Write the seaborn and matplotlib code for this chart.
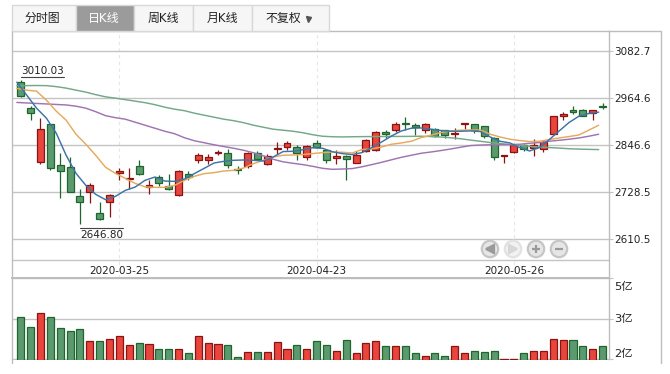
import pandas as pd
import matplotlib
matplotlib.use('Agg')
import matplotlib.pyplot as plt
from matplotlib.patches import Rectangle, Circle
from matplotlib.transforms import ScaledTranslation
import seaborn as sns

opens = [3002.8, 2937.5, 2804.3, 2897.3, 2796.8, 2791.8, 2718.9, 2729.0, 2676.2, 2703.9,
         2776.7, 2760.6, 2794.3, 2741.6, 2765.6, 2744.0, 2721.4, 2774.2, 2808.4, 2809.4,
         2825.9, 2826.9, 2785.0, 2794.3, 2826.9, 2799.3, 2835.2, 2842.0, 2842.0, 2816.9,
         2852.1, 2834.5, 2814.4, 2819.4, 2801.8, 2831.0, 2834.5, 2877.9, 2884.7, 2902.3,
         2895.5, 2884.7, 2887.2, 2883.0, 2874.7, 2898.8, 2897.3, 2892.3, 2864.6, 2818.4,
         2828.4, 2847.0, 2839.5, 2836.0, 2873.7, 2917.4, 2933.2, 2932.4, 2924.9, 2943.2]
closes = [2969.1, 2924.9, 2887.2, 2789.3, 2781.7, 2729.0, 2703.9, 2745.6, 2660.1, 2720.4,
          2781.7, 2764.1, 2774.2, 2746.6, 2751.6, 2735.6, 2781.7, 2765.6, 2821.9, 2816.9,
          2827.7, 2796.8, 2783.2, 2826.9, 2811.9, 2818.4, 2838.5, 2852.1, 2826.9, 2844.5,
          2842.0, 2809.4, 2817.6, 2811.9, 2821.9, 2859.6, 2879.7, 2873.7, 2897.3, 2897.3,
          2891.2, 2899.8, 2869.6, 2872.2, 2877.2, 2900.5, 2884.7, 2869.6, 2816.9, 2820.2,
          2847.0, 2836.0, 2847.0, 2852.8, 2917.4, 2923.2, 2927.4, 2918.9, 2932.4, 2940.0]
highs = [3010.03, 2943.2, 2912.4, 2899.8, 2826.9, 2815.9, 2736.5, 2751.6, 2702.8, 2722.2,
         2788.3, 2789.3, 2807.6, 2757.4, 2771.7, 2774.2, 2782.5, 2780.7, 2825.2, 2824.4,
         2834.5, 2837.0, 2794.3, 2828.4, 2830.2, 2824.4, 2853.6, 2855.3, 2845.3, 2845.3,
         2857.8, 2837.0, 2832.7, 2820.2, 2831.0, 2861.1, 2880.4, 2883.0, 2904.8, 2914.9,
         2902.3, 2900.5, 2888.7, 2884.7, 2889.7, 2900.5, 2897.3, 2893.0, 2866.1, 2820.2,
         2847.0, 2847.8, 2862.1, 2857.8, 2918.1, 2927.4, 2943.2, 2935.0, 2933.2, 2950.0]
lows = [2965.9, 2908.1, 2799.3, 2784.2, 2713.9, 2729.0, 2646.8, 2701.3, 2656.9, 2665.2,
        2757.4, 2736.5, 2771.7, 2724.0, 2744.0, 2732.2, 2717.9, 2759.1, 2800.8, 2799.3,
        2820.2, 2788.3, 2774.2, 2788.3, 2809.4, 2796.8, 2824.4, 2834.5, 2809.4, 2807.6,
        2838.5, 2800.8, 2799.3, 2759.1, 2800.8, 2829.5, 2830.2, 2864.6, 2879.7, 2884.7,
        2872.2, 2876.2, 2867.1, 2864.6, 2862.1, 2885.5, 2876.2, 2863.6, 2808.4, 2801.8,
        2825.9, 2831.0, 2819.4, 2827.7, 2872.9, 2909.8, 2923.2, 2918.1, 2909.8, 2935.0]

ma5 = [3003.5, 2970.9, 2938.2, 2913.1, 2875.4, 2820.2, 2774.9, 2744.8, 2722.2, 2708.9,
       2717.2, 2732.2, 2740.5, 2757.4, 2765.6, 2755.6, 2754.8, 2760.6, 2774.2, 2787.5,
       2800.8, 2805.1, 2807.6, 2808.4, 2807.6, 2805.8, 2815.9, 2829.5, 2830.2, 2834.0,
       2839.0, 2837.7, 2829.0, 2824.4, 2821.9, 2826.9, 2839.5, 2853.6, 2868.6, 2881.2,
       2888.0, 2888.7, 2885.5, 2882.2, 2880.4, 2880.4, 2881.2, 2879.7, 2866.1, 2855.3,
       2851.1, 2839.5, 2831.0, 2839.5, 2859.6, 2881.2, 2902.3, 2918.1, 2924.9, 2928.2]
ma10 = [2987.7, 2983.4, 2980.9, 2958.3, 2930.7, 2908.1, 2872.9, 2847.8, 2820.2, 2790.0,
        2774.9, 2762.4, 2749.8, 2741.0, 2739.8, 2739.8, 2744.8, 2757.4, 2767.4, 2774.2,
        2776.7, 2780.7, 2782.5, 2788.3, 2799.3, 2807.6, 2815.9, 2820.2, 2820.9, 2821.9,
        2824.4, 2826.9, 2828.4, 2827.7, 2825.9, 2834.5, 2836.0, 2841.0, 2847.8, 2851.1,
        2855.3, 2864.6, 2870.4, 2877.2, 2881.2, 2883.0, 2883.7, 2883.7, 2872.9, 2866.1,
        2860.4, 2857.1, 2854.6, 2855.3, 2859.6, 2863.6, 2867.1, 2871.2, 2883.0, 2895.5]
ma20 = [2952.6, 2951.3, 2950.0, 2948.8, 2947.5, 2946.3, 2943.2, 2938.2, 2929.4, 2919.4,
        2914.4, 2910.6, 2903.1, 2895.5, 2888.0, 2880.4, 2874.2, 2864.1, 2856.6, 2851.6,
        2846.5, 2842.0, 2837.7, 2832.7, 2826.4, 2818.9, 2810.1, 2803.8, 2800.1, 2796.8,
        2792.5, 2787.5, 2785.0, 2785.7, 2786.8, 2791.3, 2796.8, 2802.6, 2808.9, 2815.1,
        2820.2, 2825.2, 2828.4, 2832.0, 2836.0, 2840.3, 2844.5, 2845.8, 2846.5, 2846.8,
        2847.0, 2847.8, 2850.3, 2852.1, 2855.3, 2857.8, 2860.4, 2863.6, 2867.9, 2872.9]
ma30 = [2994.2, 2994.7, 2995.0, 2994.7, 2992.2, 2988.5, 2983.4, 2978.4, 2972.1, 2966.6,
        2963.3, 2959.6, 2955.8, 2952.0, 2947.0, 2940.7, 2935.7, 2931.9, 2925.7, 2920.6,
        2915.6, 2910.6, 2906.8, 2901.8, 2895.5, 2890.5, 2885.5, 2883.0, 2880.4, 2876.7,
        2871.7, 2867.9, 2866.6, 2866.1, 2866.6, 2866.9, 2867.1, 2867.1, 2867.4, 2867.4,
        2867.6, 2867.9, 2867.1, 2865.9, 2864.1, 2861.6, 2858.3, 2855.3, 2852.1, 2849.6,
        2847.0, 2844.8, 2842.8, 2840.8, 2839.5, 2838.2, 2836.5, 2835.7, 2835.0, 2834.5]

volumes = [3.34, 2.91, 3.51, 3.34, 2.87, 2.74, 2.82, 2.31, 2.31, 2.40,
           2.52, 2.14, 2.23, 2.18, 1.97, 1.97, 1.97, 1.80, 2.52, 2.23,
           2.18, 2.14, 1.59, 1.84, 1.84, 1.84, 2.27, 1.93, 2.14, 1.97,
           2.31, 2.14, 1.88, 2.35, 1.80, 2.23, 2.31, 2.06, 2.06, 2.06,
           1.76, 1.63, 1.76, 1.67, 2.06, 1.76, 1.88, 1.84, 1.88, 1.51,
           1.54, 1.80, 1.88, 1.88, 2.40, 2.35, 2.35, 2.06, 1.97, 2.10]

price_ticks = [3082.7, 2964.6, 2846.6, 2728.5, 2610.5]
volume_ticks = [1.5, 3.25, 5]
volume_labels = ['2亿', '3亿', '5亿']
date_positions = [10, 30, 50]
date_labels = ['2020-03-25', '2020-04-23', '2020-05-26']
tab_labels = ['分时图', '日K线', '周K线', '月K线', '不复权']

GREEN, GREEN_EDGE = '#5b9a6f', '#1f662e'
RED, RED_EDGE = '#e8453c', '#8a1414'
GRID = '#c4c4c4'
W, H = 670, 374


def box(left, top, right, bottom):
    return [left / W, 1 - bottom / H, (right - left) / W, (bottom - top) / H]


sns.set_style('white')
plt.rcParams['font.family'] = ['DejaVu Sans', 'Noto Sans CJK SC']

df = pd.DataFrame({'idx': range(len(opens)), 'open': opens, 'close': closes,
                   'high': highs, 'low': lows, 'volume': volumes})
df['up'] = df['close'] > df['open']

fig = plt.figure(figsize=(6.7, 3.74), dpi=100)
ax = fig.add_axes(box(11.5, 31, 609, 277.5))
ax_vol = fig.add_axes(box(11.5, 278, 609, 359.5))

# candles
for up, color, edge in [(True, RED, RED_EDGE), (False, GREEN, GREEN_EDGE)]:
    part = df[df['up'] == up]
    ax.vlines(part['idx'], part['low'], part['high'], color=edge, lw=0.9, zorder=3)
    ax.bar(part['idx'], (part['close'] - part['open']).abs(),
           bottom=part[['open', 'close']].min(axis=1), width=0.7,
           color=color, edgecolor=edge, linewidth=0.9, zorder=3)

# moving averages sit slightly left of the candles
for values, color in [(ma30, '#74a888'), (ma20, '#9f74b3'), (ma10, '#e6aa5e'), (ma5, '#3c74a6')]:
    sns.lineplot(x=df['idx'] - 0.4, y=values, color=color, lw=1.05, ax=ax,
                 errorbar=None, legend=False, zorder=4)

ax.set_xlim(-0.94, 59.65)
ax.set_ylim(2513.9, 3131.6)
ax.set_xlabel('')
ax.set_ylabel('')
ax.set_axisbelow(True)
ax.axhline(2558.9, color=GRID, lw=1, zorder=1)
ax.yaxis.tick_right()
ax.set_yticks(price_ticks, [f'{t:.1f}' for t in price_ticks])
ax.set_xticks(date_positions, date_labels)
ax.grid(axis='y', color=GRID, lw=1)
ax.grid(axis='x', color='#e6e6e6', lw=0.8, ls=(0, (3, 3)))
ax.tick_params(axis='y', length=2.7, width=0.8, color=GRID, pad=1, labelsize=7.5, labelcolor='#222222')
ax.tick_params(axis='x', length=0, pad=-8.5, labelsize=7.5, labelcolor='#222222')

# volume bars
for up, color, edge in [(True, RED, RED_EDGE), (False, GREEN, GREEN_EDGE)]:
    sns.barplot(data=df[df['up'] == up], x='idx', y='volume', native_scale=True, width=0.72,
                color=color, edgecolor=edge, linewidth=0.9, saturation=1, ax=ax_vol, zorder=3)

ax_vol.set_xlim(-0.94, 59.65)
ax_vol.set_ylim(1.5, 5)
ax_vol.set_xlabel('')
ax_vol.set_ylabel('')
ax_vol.set_xticks([])
ax_vol.yaxis.tick_right()
ax_vol.set_yticks(volume_ticks, volume_labels)
ax_vol.set_axisbelow(True)
ax_vol.grid(axis='y', color=GRID, lw=1)
ax_vol.tick_params(axis='y', length=2.7, width=0.8, color=GRID, pad=1, labelsize=8.2, labelcolor='#222222')
# the outer labels are pushed inside the panel
for label, va in zip(ax_vol.get_yticklabels(), ['bottom', 'center', 'top']):
    label.set_va(va)
top_label = ax_vol.get_yticklabels()[2]
top_label.set_transform(top_label.get_transform() + ScaledTranslation(0, -4 / 100, fig.dpi_scale_trans))

for a in (ax, ax_vol):
    for name, spine in a.spines.items():
        spine.set_color('#bdbdbd')
        spine.set_linewidth(1)
    a.patch.set_alpha(0)
ax_vol.spines['bottom'].set_visible(False)
ax_vol.spines['top'].set_linewidth(1.4)
ax.spines['bottom'].set_linewidth(1.4)

# page furniture drawn in pixel coordinates
ui = fig.add_axes([0, 0, 1, 1])
ui.set_xlim(0, W)
ui.set_ylim(H, 0)
ui.axis('off')
ui.plot([609, 660.5, 660.5], [31, 31, 363], color='#bdbdbd', lw=1)
ui.plot([11.5, 11.5], [359, 363], color='#bdbdbd', lw=1)

tab_edges = [11.5, 76, 134, 193, 252, 328.5]
tab_centers = [42, 104, 163, 222, 283.5]
for i, text in enumerate(tab_labels):
    left, right = tab_edges[i], tab_edges[i + 1]
    active = i == 1
    ui.add_patch(Rectangle((left, 5), right - left, 26, facecolor='#9b9b9b' if active else '#f6f6f6',
                           edgecolor='#d8d8d8', lw=1))
    ui.text(tab_centers[i], 18.5, text, ha='center', va='center', fontsize=8.6,
            color='white' if active else '#222222')
ui.plot([307.5], [19], marker='v', ms=3.6, color='#555555', ls='none')

ui.text(21, 71, '3010.03', ha='left', va='center', fontsize=7.5, color='#222222')
ui.plot([21, 64], [76.5, 76.5], color='#444444', lw=0.8)
ui.text(80, 234.5, '2646.80', ha='left', va='center', fontsize=7.5, color='#222222')
ui.plot([80, 123], [227.5, 227.5], color='#444444', lw=0.8)

for cx, marker, faded in [(490, '<', False), (513, '>', True), (536, '+', False), (559, '_', False)]:
    ring = '#e2e2e2' if faded else '#c6c6c6'
    fill = '#f2f2f2' if faded else '#e6e6e6'
    glyph = '#d8d8d8' if faded else '#9a9a9a'
    ui.add_patch(Circle((cx, 249), 8.2, facecolor=fill, edgecolor=ring, lw=1.6))
    ui.plot([cx], [249], marker=marker, ms=5.5, mew=1.6, color=glyph, ls='none')

plt.savefig('out.png', dpi=100)
plt.close()
